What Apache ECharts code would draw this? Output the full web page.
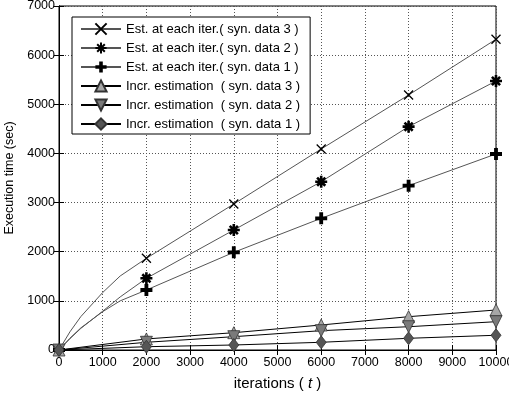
<!DOCTYPE html>
<html>
<head>
<meta charset="utf-8">
<script src="https://cdn.jsdelivr.net/npm/echarts@6/dist/echarts.min.js"></script>
<style>
  html, body { margin: 0; padding: 0; background: #fff; }
  #chart { width: 509px; height: 393px; }
</style>
</head>
<body>
<div id="chart"></div>
<script>
// Iteration counts sampled for the full-estimation runs (markers every 2000)
const estIterations = [0, 250, 500, 1000, 1400, 2000, 4000, 6000, 8000, 10000];
const estSyn3 = [0, 370, 680, 1170, 1506, 1866, 2971, 4090, 5189, 6323];
const estSyn2 = [0, 230, 440, 790, 1080, 1459, 2442, 3425, 4545, 5474];
const estSyn1 = [0, 240, 450, 780, 1000, 1221, 1988, 2680, 3344, 3989];

// Incremental estimation runs
const incIterations = [0, 2000, 4000, 6000, 8000, 10000];
const incSyn3 = [0, 225, 352, 509, 678, 814];
const incSyn2 = [0, 157, 271, 393, 474, 576];
const incSyn1 = [0, 67, 102, 157, 238, 300];

const seriesNames = [
  'Est. at each iter.( syn. data 3 )',
  'Est. at each iter.( syn. data 2 )',
  'Est. at each iter.( syn. data 1 )',
  'Incr. estimation  ( syn. data 3 )',
  'Incr. estimation  ( syn. data 2 )',
  'Incr. estimation  ( syn. data 1 )'
];

const xTicks = { min: 0, max: 10000, step: 1000 };
const yTicks = { min: 0, max: 7000, step: 1000 };

const SYM_X = 'path://M0,0L10,10M10,0L0,10';
const SYM_STAR = 'path://M5,0L5,10M0,5L10,5M1.6,1.6L8.4,8.4M8.4,1.6L1.6,8.4';
const SYM_PLUS = 'path://M3.4,0H6.6V3.4H10V6.6H6.6V10H3.4V6.6H0V3.4H3.4Z';
const SYM_DOWN = 'path://M0,0L10,0L5,9Z';

const FONT = 'Liberation Sans, Arial, sans-serif';

// markers only on multiples of 2000
function estData(values) {
  return estIterations.map((it, i) => {
    const item = { value: [it, values[i]] };
    if (it % 2000 !== 0) item.symbol = 'none';
    return item;
  });
}
function incData(values) {
  return incIterations.map((it, i) => [it, values[i]]);
}

function estSeries(name, values, symbol, size, stroke) {
  return {
    name, type: 'line', data: estData(values),
    symbol, symbolSize: size, showSymbol: true, showAllSymbol: true,
    lineStyle: { color: '#555', width: 1 },
    itemStyle: { color: '#000', borderColor: '#000', borderWidth: stroke },
    emphasis: { disabled: true }, z: 3
  };
}
function incSeries(name, values, symbol, size, fill) {
  return {
    name, type: 'line', data: incData(values),
    symbol, symbolSize: size, showSymbol: true,
    lineStyle: { color: '#000', width: 1 },
    itemStyle: { color: fill, borderColor: '#333', borderWidth: 0.8 },
    emphasis: { disabled: true }, z: 3
  };
}

const plainNumber = v => String(v);
const axisLabelStyle = { color: '#000', fontSize: 12.5, fontFamily: FONT, formatter: plainNumber };
const splitStyle = { show: true, lineStyle: { color: '#555', type: [1, 2], width: 1 } };

const chart = echarts.init(document.getElementById('chart'), null, { renderer: 'canvas' });
chart.setOption({
  animation: false,
  backgroundColor: '#fff',
  grid: {
    left: 59, right: 13, top: 6, bottom: 43, outerBoundsMode: 'none', containLabel: false,
    show: true, borderColor: '#000', borderWidth: 1, backgroundColor: '#fff'
  },
  legend: {
    orient: 'vertical', left: 72, top: 17,
    padding: [5, 10, 3, 8], itemGap: 5, itemWidth: 40, itemHeight: 14,
    backgroundColor: '#fff', borderColor: '#000', borderWidth: 1, borderRadius: 0,
    textStyle: { color: '#000', fontSize: 13, fontFamily: FONT, lineHeight: 14 },
    data: seriesNames, selectedMode: false
  },
  xAxis: [{
    type: 'value', min: xTicks.min, max: xTicks.max, interval: xTicks.step,
    name: 'iterations ( {i|t} )', nameLocation: 'middle', nameGap: 26,
    nameTextStyle: { color: '#000', fontSize: 15, fontFamily: FONT, rich: { i: { fontStyle: 'italic', fontSize: 15, fontFamily: FONT } } },
    axisLine: { show: true, lineStyle: { color: '#000' } },
    axisTick: { show: true, inside: true, length: 5, lineStyle: { color: '#000' } },
    axisLabel: Object.assign({ margin: 6 }, axisLabelStyle),
    splitLine: splitStyle
  }, {
    type: 'value', position: 'top', min: xTicks.min, max: xTicks.max, interval: xTicks.step,
    axisLine: { show: true, lineStyle: { color: '#000' } },
    axisTick: { show: true, inside: true, length: 5, lineStyle: { color: '#000' } },
    axisLabel: { show: false }, splitLine: { show: false }
  }],
  yAxis: [{
    type: 'value', min: yTicks.min, max: yTicks.max, interval: yTicks.step,
    name: 'Execution time (sec)', nameLocation: 'middle', nameGap: 40,
    nameTextStyle: { color: '#000', fontSize: 12.5, fontFamily: FONT },
    axisLine: { show: true, lineStyle: { color: '#000' } },
    axisTick: { show: true, inside: true, length: 5, lineStyle: { color: '#000' } },
    axisLabel: Object.assign({ margin: 4 }, axisLabelStyle),
    splitLine: splitStyle
  }, {
    type: 'value', position: 'right', min: yTicks.min, max: yTicks.max, interval: yTicks.step,
    axisLine: { show: true, lineStyle: { color: '#000' } },
    axisTick: { show: true, inside: true, length: 5, lineStyle: { color: '#000' } },
    axisLabel: { show: false }, splitLine: { show: false }
  }],
  series: [
    estSeries(seriesNames[0], estSyn3, SYM_X, 9, 1.3),
    estSeries(seriesNames[1], estSyn2, SYM_STAR, 12, 2.6),
    estSeries(seriesNames[2], estSyn1, SYM_PLUS, 12, 0),
    incSeries(seriesNames[3], incSyn3, 'triangle', 12, '#a6a6a6'),
    incSeries(seriesNames[4], incSyn2, SYM_DOWN, 12, '#7a7a7a'),
    incSeries(seriesNames[5], incSyn1, 'diamond', [10, 13], '#555')
  ]
});
</script>
</body>
</html>
